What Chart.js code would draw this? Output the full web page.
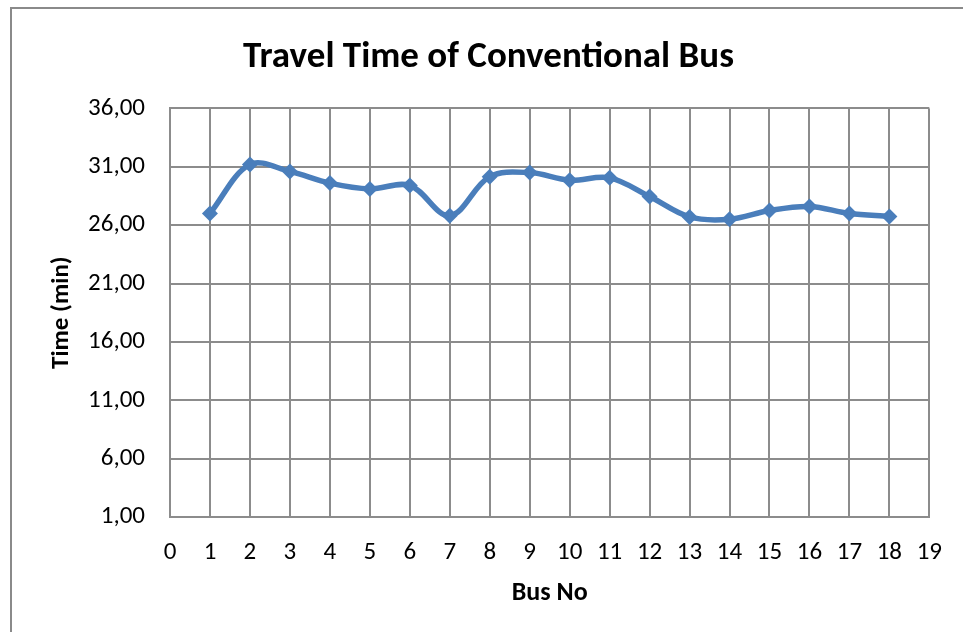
<!DOCTYPE html>
<html>
<head>
<meta charset="utf-8">
<title>Travel Time of Conventional Bus</title>
<script src="https://cdn.jsdelivr.net/npm/chart.js@4.4.0/dist/chart.umd.min.js"></script>
<style>
    html, body { margin: 0; padding: 0; background: #fff; overflow: hidden; }
    #wrap { position: relative; width: 963px; height: 632px; }
    #frame {
        position: absolute; left: 10px; top: 7px; width: 1000px; height: 700px;
        border: 2px solid #8a8a8a; box-sizing: border-box;
    }
    canvas { position: absolute; left: 0; top: 0; }
</style>
</head>
<body>
<div id="wrap">
    <div id="frame"></div>
    <canvas id="busChart" width="963" height="632"></canvas>
</div>
<script>
// travel time per bus (minutes)
const busNo = [1, 2, 3, 4, 5, 6, 7, 8, 9, 10, 11, 12, 13, 14, 15, 16, 17, 18];
const travelTime = [27.0, 31.2, 30.6, 29.6, 29.1, 29.4, 26.8, 30.15, 30.5, 29.85,
                    30.05, 28.45, 26.7, 26.5, 27.25, 27.6, 27.0, 26.75];

// axis ranges
const xTicks = [0, 19, 1];      // min, max, step
const yTicks = [1, 36, 5];

const FONT = 'Carlito, Lato, "Open Sans", sans-serif';
const GRID = '#8c8c8c';

const points = busNo.map((b, i) => ({ x: b, y: travelTime[i] }));

const ctx = document.getElementById('busChart').getContext('2d');
const busChart = new Chart(ctx, {
    type: 'line',
    data: {
        datasets: [{
            label: 'Travel Time',
            data: points,
            borderColor: '#4a7ebb',
            backgroundColor: '#4a7ebb',
            borderWidth: 5.5,
            tension: 0.35,
            pointStyle: 'rectRot',
            pointRadius: 8,
            pointHoverRadius: 8,
            pointBorderWidth: 0
        }]
    },
    options: {
        responsive: false,
        animation: false,
        layout: { padding: { left: 47, right: 33, top: 0, bottom: 0 } },
        plugins: {
            legend: { display: false },
            tooltip: { enabled: false },
            title: {
                display: true,
                text: 'Travel Time of Conventional Bus',
                color: '#000',
                font: { family: FONT, size: 37, weight: 'bold' },
                padding: { top: 36, bottom: 28 }
            }
        },
        scales: {
            x: {
                type: 'linear',
                min: xTicks[0],
                max: xTicks[1],
                afterFit: scale => { scale.height = 115; },
                ticks: {
                    stepSize: xTicks[2],
                    autoSkip: false,
                    maxRotation: 0,
                    padding: 21,
                    color: '#000',
                    font: { family: FONT, size: 25 }
                },
                grid: { color: GRID, lineWidth: 2, drawTicks: false },
                border: { color: GRID, width: 2 },
                title: {
                    display: true,
                    text: 'Bus No',
                    color: '#000',
                    font: { family: FONT, size: 26, weight: 'bold' },
                    padding: { top: 0, bottom: 23 }
                }
            },
            y: {
                min: yTicks[0],
                max: yTicks[1],
                afterFit: scale => { scale.width = 123; },
                ticks: {
                    stepSize: yTicks[2],
                    padding: 25,
                    color: '#000',
                    font: { family: FONT, size: 25 },
                    callback: v => v.toFixed(2).replace('.', ',')
                },
                grid: { color: GRID, lineWidth: 2, drawTicks: false },
                border: { color: GRID, width: 2 },
                title: {
                    display: true,
                    text: 'Time (min)',
                    color: '#000',
                    font: { family: FONT, size: 25, weight: 'bold' },
                    padding: { top: 0, bottom: 0 }
                }
            }
        }
    }
});
</script>
</body>
</html>
